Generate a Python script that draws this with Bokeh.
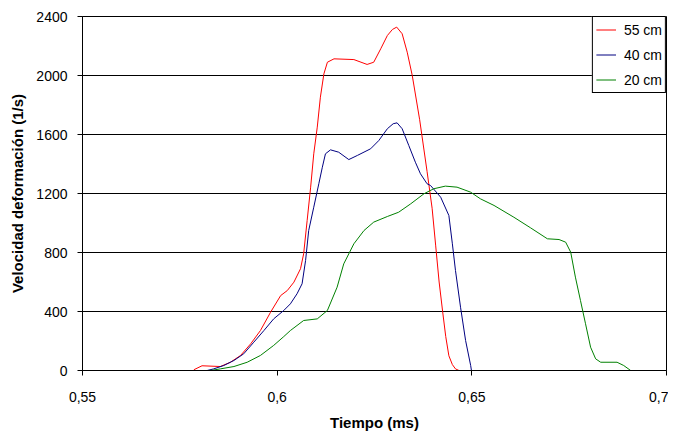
from bokeh.plotting import figure
from bokeh.models import Range1d, FixedTicker, CustomJSTickFormatter, Legend, LegendItem
from bokeh.embed import file_html
from bokeh.resources import INLINE

# Tiempo (ms) / Velocidad deformación (1/s)
t55 = [0.5786, 0.5807, 0.5854, 0.5880, 0.5906, 0.5932, 0.5957, 0.5983, 0.6009, 0.6026,
       0.6043, 0.6060, 0.6068, 0.6077, 0.6086, 0.6094, 0.6103, 0.6111, 0.6120, 0.6129,
       0.6146, 0.6197, 0.6231, 0.6248, 0.6266, 0.6283, 0.6296, 0.6307, 0.6321, 0.6334,
       0.6347, 0.6366, 0.6385, 0.6398, 0.6407, 0.6416, 0.6425, 0.6433, 0.6441, 0.6450,
       0.6458, 0.6467]
v55 = [5, 32, 27, 56, 102, 181, 271, 395, 508, 542,
       599, 690, 791, 1017, 1243, 1469, 1650, 1853, 2011, 2090,
       2113, 2108, 2075, 2090, 2181, 2271, 2312, 2328, 2283, 2158,
       2000, 1700, 1350, 1100, 850, 600, 400, 230, 100, 40,
       11, 0]

t40 = [0.5820, 0.5837, 0.5863, 0.5889, 0.5914, 0.5940, 0.5966, 0.5991, 0.6017, 0.6034,
       0.6051, 0.6064, 0.6073, 0.6081, 0.6094, 0.6107, 0.6116, 0.6124, 0.6137, 0.6158,
       0.6184, 0.6206, 0.6240, 0.6261, 0.6283, 0.6298, 0.6308, 0.6321, 0.6338, 0.6355,
       0.6368, 0.6385, 0.6394, 0.6420, 0.6441, 0.6450, 0.6458, 0.6471, 0.6484, 0.6497,
       0.6499]
v40 = [0, 11, 34, 68, 113, 192, 271, 350, 407, 452,
       520, 588, 746, 949, 1107, 1266, 1378, 1469, 1496, 1480,
       1430, 1458, 1503, 1559, 1639, 1673, 1679, 1639, 1526, 1412,
       1334, 1266, 1254, 1175, 1051, 859, 678, 429, 203, 34,
       0]

t20 = [0.5829, 0.5854, 0.5889, 0.5923, 0.5957, 0.5991, 0.6017, 0.6034, 0.6068, 0.6103,
       0.6129, 0.6154, 0.6171, 0.6197, 0.6223, 0.6248, 0.6283, 0.6312, 0.6343, 0.6377,
       0.6402, 0.6432, 0.6462, 0.6497, 0.6522, 0.6557, 0.6608, 0.6651, 0.6694, 0.6724,
       0.6741, 0.6754, 0.6766, 0.6779, 0.6792, 0.6805, 0.6818, 0.6831, 0.6873, 0.6890,
       0.6908]
v20 = [0, 11, 27, 56, 102, 170, 230, 271, 339, 350,
       407, 565, 723, 859, 949, 1006, 1044, 1073, 1130, 1198,
       1232, 1250, 1243, 1209, 1164, 1119, 1039, 967, 893, 888,
       870, 802, 633, 475, 317, 158, 79, 56, 56, 34,
       0]

series_names = ["55 cm", "40 cm", "20 cm"]
x_ticks = [0.55, 0.6, 0.65, 0.7]
y_ticks = [0, 400, 800, 1200, 1600, 2000, 2400]

FONT = "Liberation Sans"

p = figure(width=668, height=433, output_backend="svg", toolbar_location=None,
           x_range=Range1d(0.55, 0.7), y_range=Range1d(0, 2400),
           min_border_left=82, min_border_right=2, min_border_top=16, min_border_bottom=60)

p.background_fill_color = "white"
p.border_fill_color = "white"
p.outline_line_color = "black"
p.outline_line_alpha = 1.0
p.outline_line_width = 1

r55 = p.line(t55, v55, line_color="#FF0000", line_width=1)
r40 = p.line(t40, v40, line_color="#000080", line_width=1)
r20 = p.line(t20, v20, line_color="#008000", line_width=1)

p.xaxis.ticker = FixedTicker(ticks=x_ticks)
p.yaxis.ticker = FixedTicker(ticks=y_ticks)
p.xaxis.formatter = CustomJSTickFormatter(code="""
    let s = tick.toFixed(2);
    if (s.endsWith('0')) { s = s.slice(0, -1); }
    return s.replace('.', ',');
""")
p.yaxis.formatter = CustomJSTickFormatter(code="return Math.round(tick).toString();")

for ax in (p.xaxis[0], p.yaxis[0]):
    ax.axis_line_color = "black"
    ax.major_tick_line_color = "black"
    ax.major_tick_out = 5
    ax.major_tick_in = 0
    ax.minor_tick_line_color = None
    ax.major_label_text_font = FONT
    ax.major_label_text_font_size = "14px"
    ax.major_label_text_color = "black"
    ax.axis_label_text_font = FONT
    ax.axis_label_text_font_size = "15px"
    ax.axis_label_text_font_style = "bold"
    ax.axis_label_text_color = "black"

p.xaxis.axis_label = "Tiempo (ms)"
p.yaxis.axis_label = "Velocidad deformación (1/s)"
p.xaxis.major_label_standoff = 16
p.yaxis.major_label_standoff = 10
p.xaxis.axis_label_standoff = 9
p.yaxis.axis_label_standoff = 7

p.xgrid.visible = False
p.ygrid.grid_line_color = "black"
p.ygrid.grid_line_alpha = 1.0
p.ygrid.grid_line_width = 1

legend = Legend(items=[LegendItem(label=series_names[0], renderers=[r55]),
                       LegendItem(label=series_names[1], renderers=[r40]),
                       LegendItem(label=series_names[2], renderers=[r20])],
                location="top_right")
legend.margin = 0
legend.padding = 3
legend.spacing = 6
legend.glyph_height = 19
legend.glyph_width = 20
legend.label_standoff = 8
legend.label_text_font = FONT
legend.label_text_font_size = "14px"
legend.label_text_color = "black"
legend.border_line_color = "black"
legend.border_line_width = 1
legend.border_line_alpha = 1.0
legend.background_fill_color = "white"
legend.background_fill_alpha = 1.0
p.add_layout(legend)

open("out.html", "w").write(file_html(p, INLINE))
